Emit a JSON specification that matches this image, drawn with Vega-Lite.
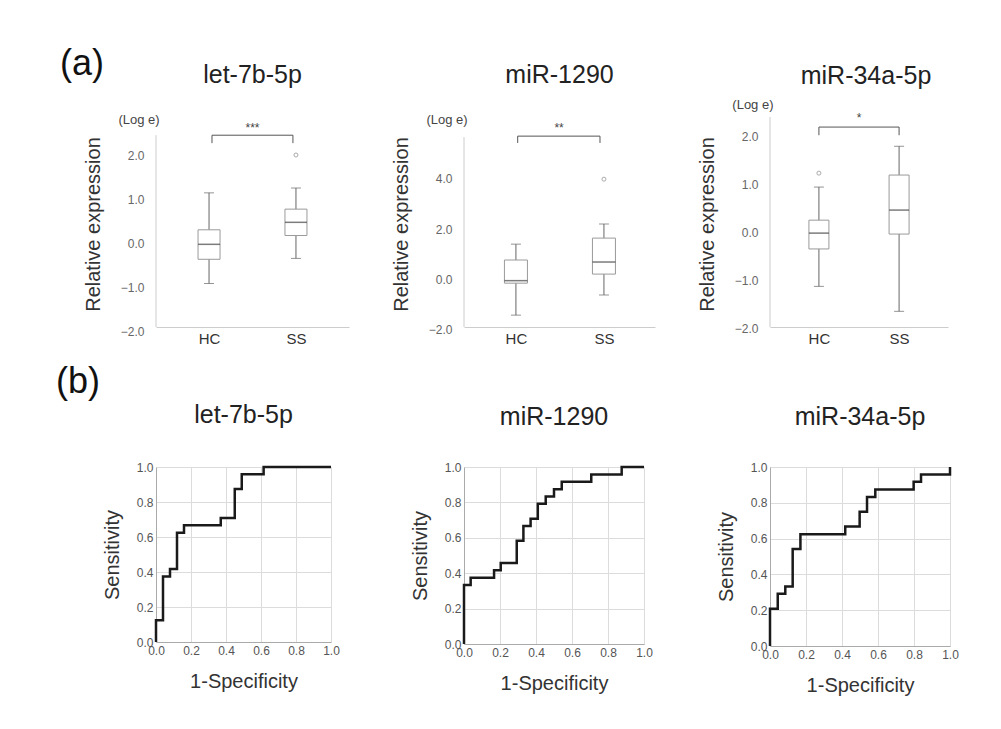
{
  "$schema": "https://vega.github.io/schema/vega-lite/v6.json",
  "autosize": {"type": "none"},
  "padding": {"left": 156, "top": 117, "right": 845, "bottom": 612},
  "background": "white",
  "columns": 3,
  "bounds": "flush",
  "align": "each",
  "spacing": {"row": 136, "column": 115},
  "config": {
    "font": "Liberation Sans",
    "view": {"stroke": null},
    "title": {"font": "Liberation Sans", "fontSize": 25, "fontWeight": "normal", "color": "#222", "frame": "group"},
    "axis": {"labelFont": "Liberation Sans", "titleFont": "Liberation Sans", "titleFontWeight": "normal", "titleColor": "#333", "labelOverlap": false, "labelFlush": false},
    "scale": {"continuousPadding": 0},
    "text": {"font": "Liberation Sans"}
  },
  "concat": [
    {
      "width": 193, "height": 214,
      "title": {"text": "let-7b-5p", "offset": -42},
      "layer": [
        {
          "data": {"values": [
            {"g": 1, "lo": -0.92, "q1": -0.37, "med": -0.03, "q3": 0.30, "hi": 1.14},
            {"g": 2, "lo": -0.35, "q1": 0.17, "med": 0.47, "q3": 0.77, "hi": 1.25}
          ]},
          "layer": [
            {"mark": {"type": "rule", "color": "#666", "strokeWidth": 1},
             "encoding": {
               "x": {"field": "g", "type": "quantitative", "scale": {"domain": [0.39, 2.61], "nice": false, "zero": false, "padding": 0},
                     "axis": {"values": [1, 2], "labelExpr": "datum.value == 1 ? 'HC' : 'SS'", "domainColor": "#ccc", "ticks": false, "grid": false, "labelFontSize": 15, "labelColor": "#333", "labelPadding": 4, "title": null, "offset": -4}},
               "y": {"field": "lo", "type": "quantitative", "scale": {"domain": [-2, 2.864], "nice": false, "zero": false, "padding": 0},
                     "axis": {"values": [-2, -1, 0, 1, 2], "format": ".1f", "domain": false, "ticks": false, "grid": false, "labelFontSize": 12, "labelColor": "#666", "labelPadding": 12, "title": "Relative expression", "titleFontSize": 20, "titlePadding": 17}},
               "y2": {"field": "hi"}}},
            {"mark": {"type": "bar", "width": 22, "fill": "white", "stroke": "#9a9a9a", "strokeWidth": 1},
             "encoding": {"x": {"field": "g", "type": "quantitative"}, "y": {"field": "q1", "type": "quantitative"}, "y2": {"field": "q3"}}},
            {"mark": {"type": "tick", "orient": "horizontal", "size": 22, "thickness": 1.5, "color": "#444"},
             "encoding": {"x": {"field": "g", "type": "quantitative"}, "y": {"field": "med", "type": "quantitative"}}},
            {"mark": {"type": "tick", "orient": "horizontal", "size": 10, "thickness": 1, "color": "#666"},
             "encoding": {"x": {"field": "g", "type": "quantitative"}, "y": {"field": "hi", "type": "quantitative"}}},
            {"mark": {"type": "tick", "orient": "horizontal", "size": 10, "thickness": 1, "color": "#666"},
             "encoding": {"x": {"field": "g", "type": "quantitative"}, "y": {"field": "lo", "type": "quantitative"}}}
          ]
        },
        {"data": {"values": [{"g": 2, "v": 2.0}]},
         "mark": {"type": "point", "shape": "circle", "size": 16, "filled": false, "color": "#888", "strokeWidth": 1},
         "encoding": {"x": {"field": "g", "type": "quantitative"}, "y": {"field": "v", "type": "quantitative"}}},
        {"data": {"values": [{}]}, "mark": {"type": "rule", "color": "#ccc"},
         "encoding": {"x": {"datum": 0.39}, "y": {"datum": -1.91}, "y2": {"datum": 2.45}}},
        {"data": {"values": [{}]}, "mark": {"type": "rule", "color": "#555"},
         "encoding": {"x": {"datum": 1.034}, "x2": {"datum": 1.965}, "y": {"datum": 2.45}}},
        {"data": {"values": [{}]}, "mark": {"type": "rule", "color": "#555"},
         "encoding": {"x": {"datum": 1.034}, "y": {"datum": 2.27}, "y2": {"datum": 2.45}}},
        {"data": {"values": [{}]}, "mark": {"type": "rule", "color": "#555"},
         "encoding": {"x": {"datum": 1.965}, "y": {"datum": 2.27}, "y2": {"datum": 2.45}}},
        {"data": {"values": [{"label": "***"}]}, "mark": {"type": "text", "fontSize": 12, "color": "#444", "baseline": "middle"},
         "encoding": {"x": {"datum": 1.5}, "y": {"datum": 2.61}, "text": {"field": "label"}}},
        {"data": {"values": [{"label": "(Log e)"}]}, "mark": {"type": "text", "fontSize": 13, "color": "#444", "baseline": "middle"},
         "encoding": {"x": {"datum": 0.195}, "y": {"datum": 2.80}, "text": {"field": "label"}}},
        {"data": {"values": [{"label": "(a)"}]}, "mark": {"type": "text", "fontSize": 36, "color": "#111", "baseline": "middle"},
         "encoding": {"x": {"datum": -0.461}, "y": {"datum": 4.07}, "text": {"field": "label"}}}
      ]
    },
    {
      "width": 191, "height": 214,
      "title": {"text": "miR-1290", "offset": 26},
      "layer": [
        {
          "data": {"values": [
            {"g": 1, "lo": -1.42, "q1": -0.15, "med": -0.05, "q3": 0.77, "hi": 1.40},
            {"g": 2, "lo": -0.62, "q1": 0.21, "med": 0.69, "q3": 1.64, "hi": 2.20}
          ]},
          "layer": [
            {"mark": {"type": "rule", "color": "#666", "strokeWidth": 1},
             "encoding": {
               "x": {"field": "g", "type": "quantitative", "scale": {"domain": [0.41, 2.58], "nice": false, "zero": false, "padding": 0},
                     "axis": {"values": [1, 2], "labelExpr": "datum.value == 1 ? 'HC' : 'SS'", "domainColor": "#ccc", "ticks": false, "grid": false, "labelFontSize": 15, "labelColor": "#333", "labelPadding": 4, "title": null, "offset": -4}},
               "y": {"field": "lo", "type": "quantitative", "scale": {"domain": [-2.05, 6.45], "nice": false, "zero": false, "padding": 0},
                     "axis": {"values": [-2, 0, 2, 4], "format": ".1f", "domain": false, "ticks": false, "grid": false, "labelFontSize": 12, "labelColor": "#666", "labelPadding": 12, "title": "Relative expression", "titleFontSize": 20, "titlePadding": 17}},
               "y2": {"field": "hi"}}},
            {"mark": {"type": "bar", "width": 23, "fill": "white", "stroke": "#9a9a9a", "strokeWidth": 1},
             "encoding": {"x": {"field": "g", "type": "quantitative"}, "y": {"field": "q1", "type": "quantitative"}, "y2": {"field": "q3"}}},
            {"mark": {"type": "tick", "orient": "horizontal", "size": 23, "thickness": 1.5, "color": "#444"},
             "encoding": {"x": {"field": "g", "type": "quantitative"}, "y": {"field": "med", "type": "quantitative"}}},
            {"mark": {"type": "tick", "orient": "horizontal", "size": 10, "thickness": 1, "color": "#666"},
             "encoding": {"x": {"field": "g", "type": "quantitative"}, "y": {"field": "hi", "type": "quantitative"}}},
            {"mark": {"type": "tick", "orient": "horizontal", "size": 10, "thickness": 1, "color": "#666"},
             "encoding": {"x": {"field": "g", "type": "quantitative"}, "y": {"field": "lo", "type": "quantitative"}}}
          ]
        },
        {"data": {"values": [{"g": 2, "v": 3.98}]},
         "mark": {"type": "point", "shape": "circle", "size": 16, "filled": false, "color": "#888", "strokeWidth": 1},
         "encoding": {"x": {"field": "g", "type": "quantitative"}, "y": {"field": "v", "type": "quantitative"}}},
        {"data": {"values": [{}]}, "mark": {"type": "rule", "color": "#ccc"},
         "encoding": {"x": {"datum": 0.41}, "y": {"datum": -1.89}, "y2": {"datum": 5.65}}},
        {"data": {"values": [{}]}, "mark": {"type": "rule", "color": "#555"},
         "encoding": {"x": {"datum": 1.02}, "x2": {"datum": 1.955}, "y": {"datum": 5.69}}},
        {"data": {"values": [{}]}, "mark": {"type": "rule", "color": "#555"},
         "encoding": {"x": {"datum": 1.02}, "y": {"datum": 5.42}, "y2": {"datum": 5.69}}},
        {"data": {"values": [{}]}, "mark": {"type": "rule", "color": "#555"},
         "encoding": {"x": {"datum": 1.955}, "y": {"datum": 5.42}, "y2": {"datum": 5.69}}},
        {"data": {"values": [{"label": "**"}]}, "mark": {"type": "text", "fontSize": 12, "color": "#444", "baseline": "middle"},
         "encoding": {"x": {"datum": 1.49}, "y": {"datum": 6.01}, "text": {"field": "label"}}},
        {"data": {"values": [{"label": "(Log e)"}]}, "mark": {"type": "text", "fontSize": 13, "color": "#444", "baseline": "middle"},
         "encoding": {"x": {"datum": 0.217}, "y": {"datum": 6.33}, "text": {"field": "label"}}}
      ]
    },
    {
      "width": 178, "height": 214,
      "title": {"text": "miR-34a-5p", "offset": 10, "dx": 7},
      "layer": [
        {
          "data": {"values": [
            {"g": 1, "lo": -1.13, "q1": -0.35, "med": -0.02, "q3": 0.25, "hi": 0.94},
            {"g": 2, "lo": -1.65, "q1": -0.04, "med": 0.46, "q3": 1.19, "hi": 1.79}
          ]},
          "layer": [
            {"mark": {"type": "rule", "color": "#666", "strokeWidth": 1},
             "encoding": {
               "x": {"field": "g", "type": "quantitative", "scale": {"domain": [0.39, 2.61], "nice": false, "zero": false, "padding": 0},
                     "axis": {"values": [1, 2], "labelExpr": "datum.value == 1 ? 'HC' : 'SS'", "domainColor": "#ccc", "ticks": false, "grid": false, "labelFontSize": 15, "labelColor": "#333", "labelPadding": 4, "title": null, "offset": -4}},
               "y": {"field": "lo", "type": "quantitative", "scale": {"domain": [-2.06, 2.40], "nice": false, "zero": false, "padding": 0},
                     "axis": {"values": [-2, -1, 0, 1, 2], "format": ".1f", "domain": false, "ticks": false, "grid": false, "labelFontSize": 12, "labelColor": "#666", "labelPadding": 12, "title": "Relative expression", "titleFontSize": 20, "titlePadding": 17}},
               "y2": {"field": "hi"}}},
            {"mark": {"type": "bar", "width": 20, "fill": "white", "stroke": "#9a9a9a", "strokeWidth": 1},
             "encoding": {"x": {"field": "g", "type": "quantitative"}, "y": {"field": "q1", "type": "quantitative"}, "y2": {"field": "q3"}}},
            {"mark": {"type": "tick", "orient": "horizontal", "size": 20, "thickness": 1.5, "color": "#444"},
             "encoding": {"x": {"field": "g", "type": "quantitative"}, "y": {"field": "med", "type": "quantitative"}}},
            {"mark": {"type": "tick", "orient": "horizontal", "size": 10, "thickness": 1, "color": "#666"},
             "encoding": {"x": {"field": "g", "type": "quantitative"}, "y": {"field": "hi", "type": "quantitative"}}},
            {"mark": {"type": "tick", "orient": "horizontal", "size": 10, "thickness": 1, "color": "#666"},
             "encoding": {"x": {"field": "g", "type": "quantitative"}, "y": {"field": "lo", "type": "quantitative"}}}
          ]
        },
        {"data": {"values": [{"g": 1, "v": 1.23}]},
         "mark": {"type": "point", "shape": "circle", "size": 16, "filled": false, "color": "#888", "strokeWidth": 1},
         "encoding": {"x": {"field": "g", "type": "quantitative"}, "y": {"field": "v", "type": "quantitative"}}},
        {"data": {"values": [{}]}, "mark": {"type": "rule", "color": "#ccc"},
         "encoding": {"x": {"datum": 0.39}, "y": {"datum": -1.98}, "y2": {"datum": 2.40}}},
        {"data": {"values": [{}]}, "mark": {"type": "rule", "color": "#555"},
         "encoding": {"x": {"datum": 1.0}, "x2": {"datum": 2.0}, "y": {"datum": 2.19}}},
        {"data": {"values": [{}]}, "mark": {"type": "rule", "color": "#555"},
         "encoding": {"x": {"datum": 1.0}, "y": {"datum": 2.02}, "y2": {"datum": 2.19}}},
        {"data": {"values": [{}]}, "mark": {"type": "rule", "color": "#555"},
         "encoding": {"x": {"datum": 2.0}, "y": {"datum": 2.02}, "y2": {"datum": 2.19}}},
        {"data": {"values": [{"label": "*"}]}, "mark": {"type": "text", "fontSize": 12, "color": "#444", "baseline": "middle"},
         "encoding": {"x": {"datum": 1.5}, "y": {"datum": 2.375}, "text": {"field": "label"}}},
        {"data": {"values": [{"label": "(Log e)"}]}, "mark": {"type": "text", "fontSize": 13, "color": "#444", "baseline": "middle"},
         "encoding": {"x": {"datum": 0.177}, "y": {"datum": 2.65}, "text": {"field": "label"}}}
      ]
    },
    {
      "width": 175, "height": 175,
      "title": {"text": "let-7b-5p", "offset": -64},
      "layer": [
        {"data": {"values": [
          {"i": 0, "fpr": 0, "tpr": 0}, {"i": 1, "fpr": 0, "tpr": 0.125}, {"i": 2, "fpr": 0.04, "tpr": 0.375},
          {"i": 3, "fpr": 0.08, "tpr": 0.417}, {"i": 4, "fpr": 0.12, "tpr": 0.625}, {"i": 5, "fpr": 0.16, "tpr": 0.667},
          {"i": 6, "fpr": 0.37, "tpr": 0.708}, {"i": 7, "fpr": 0.45, "tpr": 0.875}, {"i": 8, "fpr": 0.49, "tpr": 0.958},
          {"i": 9, "fpr": 0.615, "tpr": 1.0}, {"i": 10, "fpr": 1.0, "tpr": 1.0}
        ]},
         "mark": {"type": "line", "interpolate": "step-after", "color": "#1a1a1a", "strokeWidth": 2.5},
         "encoding": {
           "x": {"field": "fpr", "type": "quantitative", "scale": {"domain": [0, 1], "nice": false},
                 "axis": {"values": [0, 0.2, 0.4, 0.6, 0.8, 1], "format": ".1f", "grid": true, "gridColor": "#dcdcdc", "domainColor": "#aaa", "ticks": false, "labelFontSize": 12, "labelColor": "#555", "labelPadding": 3, "title": "1-Specificity", "titleFontSize": 20, "titlePadding": 15}},
           "y": {"field": "tpr", "type": "quantitative", "scale": {"domain": [0, 1], "nice": false},
                 "axis": {"values": [0, 0.2, 0.4, 0.6, 0.8, 1], "format": ".1f", "grid": true, "gridColor": "#dcdcdc", "domainColor": "#aaa", "ticks": false, "labelFontSize": 12, "labelColor": "#555", "labelPadding": 3, "title": "Sensitivity", "titleFontSize": 20, "titlePadding": 14}},
           "order": {"field": "i"}}},
        {"data": {"values": [{"label": "(b)"}]}, "mark": {"type": "text", "fontSize": 36, "color": "#111", "baseline": "middle"},
         "encoding": {
           "x": {"datum": -0.446, "type": "quantitative", "scale": {"domain": [0, 1], "nice": false},
                 "axis": {"values": [0, 0.2, 0.4, 0.6, 0.8, 1], "format": ".1f", "grid": true, "gridColor": "#dcdcdc", "domainColor": "#aaa", "ticks": false, "labelFontSize": 12, "labelColor": "#555", "labelPadding": 3, "title": "1-Specificity", "titleFontSize": 20, "titlePadding": 15}},
           "y": {"datum": 1.486, "type": "quantitative", "scale": {"domain": [0, 1], "nice": false},
                 "axis": {"values": [0, 0.2, 0.4, 0.6, 0.8, 1], "format": ".1f", "grid": true, "gridColor": "#dcdcdc", "domainColor": "#aaa", "ticks": false, "labelFontSize": 12, "labelColor": "#555", "labelPadding": 3, "title": "Sensitivity", "titleFontSize": 20, "titlePadding": 14}},
           "text": {"field": "label"}}}
      ]
    },
    {
      "width": 180, "height": 177,
      "title": {"text": "miR-1290", "offset": 31},
      "layer": [
        {"data": {"values": [
          {"i": 0, "fpr": 0, "tpr": 0}, {"i": 1, "fpr": 0, "tpr": 0.333}, {"i": 2, "fpr": 0.037, "tpr": 0.375},
          {"i": 3, "fpr": 0.167, "tpr": 0.417}, {"i": 4, "fpr": 0.204, "tpr": 0.458}, {"i": 5, "fpr": 0.293, "tpr": 0.583},
          {"i": 6, "fpr": 0.33, "tpr": 0.667}, {"i": 7, "fpr": 0.37, "tpr": 0.708}, {"i": 8, "fpr": 0.41, "tpr": 0.792},
          {"i": 9, "fpr": 0.454, "tpr": 0.833}, {"i": 10, "fpr": 0.5, "tpr": 0.875}, {"i": 11, "fpr": 0.543, "tpr": 0.917},
          {"i": 12, "fpr": 0.707, "tpr": 0.958}, {"i": 13, "fpr": 0.876, "tpr": 1.0}, {"i": 14, "fpr": 1.0, "tpr": 1.0}
        ]},
         "mark": {"type": "line", "interpolate": "step-after", "color": "#1a1a1a", "strokeWidth": 2.5},
         "encoding": {
           "x": {"field": "fpr", "type": "quantitative", "scale": {"domain": [0, 1], "nice": false},
                 "axis": {"values": [0, 0.2, 0.4, 0.6, 0.8, 1], "format": ".1f", "grid": true, "gridColor": "#dcdcdc", "domainColor": "#aaa", "ticks": false, "labelFontSize": 12, "labelColor": "#555", "labelPadding": 3, "title": "1-Specificity", "titleFontSize": 20, "titlePadding": 15}},
           "y": {"field": "tpr", "type": "quantitative", "scale": {"domain": [0, 1], "nice": false},
                 "axis": {"values": [0, 0.2, 0.4, 0.6, 0.8, 1], "format": ".1f", "grid": true, "gridColor": "#dcdcdc", "domainColor": "#aaa", "ticks": false, "labelFontSize": 12, "labelColor": "#555", "labelPadding": 3, "title": "Sensitivity", "titleFontSize": 20, "titlePadding": 14}},
           "order": {"field": "i"}}}
      ]
    },
    {
      "width": 180, "height": 179,
      "title": {"text": "miR-34a-5p", "offset": 31},
      "layer": [
        {"data": {"values": [
          {"i": 0, "fpr": 0, "tpr": 0}, {"i": 1, "fpr": 0, "tpr": 0.208}, {"i": 2, "fpr": 0.043, "tpr": 0.292},
          {"i": 3, "fpr": 0.085, "tpr": 0.333}, {"i": 4, "fpr": 0.126, "tpr": 0.542}, {"i": 5, "fpr": 0.169, "tpr": 0.625},
          {"i": 6, "fpr": 0.418, "tpr": 0.667}, {"i": 7, "fpr": 0.498, "tpr": 0.75}, {"i": 8, "fpr": 0.539, "tpr": 0.833},
          {"i": 9, "fpr": 0.585, "tpr": 0.875}, {"i": 10, "fpr": 0.798, "tpr": 0.917}, {"i": 11, "fpr": 0.839, "tpr": 0.958},
          {"i": 12, "fpr": 1.0, "tpr": 1.0}
        ]},
         "mark": {"type": "line", "interpolate": "step-after", "color": "#1a1a1a", "strokeWidth": 2.5},
         "encoding": {
           "x": {"field": "fpr", "type": "quantitative", "scale": {"domain": [0, 1], "nice": false},
                 "axis": {"values": [0, 0.2, 0.4, 0.6, 0.8, 1], "format": ".1f", "grid": true, "gridColor": "#dcdcdc", "domainColor": "#aaa", "ticks": false, "labelFontSize": 12, "labelColor": "#555", "labelPadding": 3, "title": "1-Specificity", "titleFontSize": 20, "titlePadding": 15}},
           "y": {"field": "tpr", "type": "quantitative", "scale": {"domain": [0, 1], "nice": false},
                 "axis": {"values": [0, 0.2, 0.4, 0.6, 0.8, 1], "format": ".1f", "grid": true, "gridColor": "#dcdcdc", "domainColor": "#aaa", "ticks": false, "labelFontSize": 12, "labelColor": "#555", "labelPadding": 3, "title": "Sensitivity", "titleFontSize": 20, "titlePadding": 14}},
           "order": {"field": "i"}}}
      ]
    }
  ]
}
